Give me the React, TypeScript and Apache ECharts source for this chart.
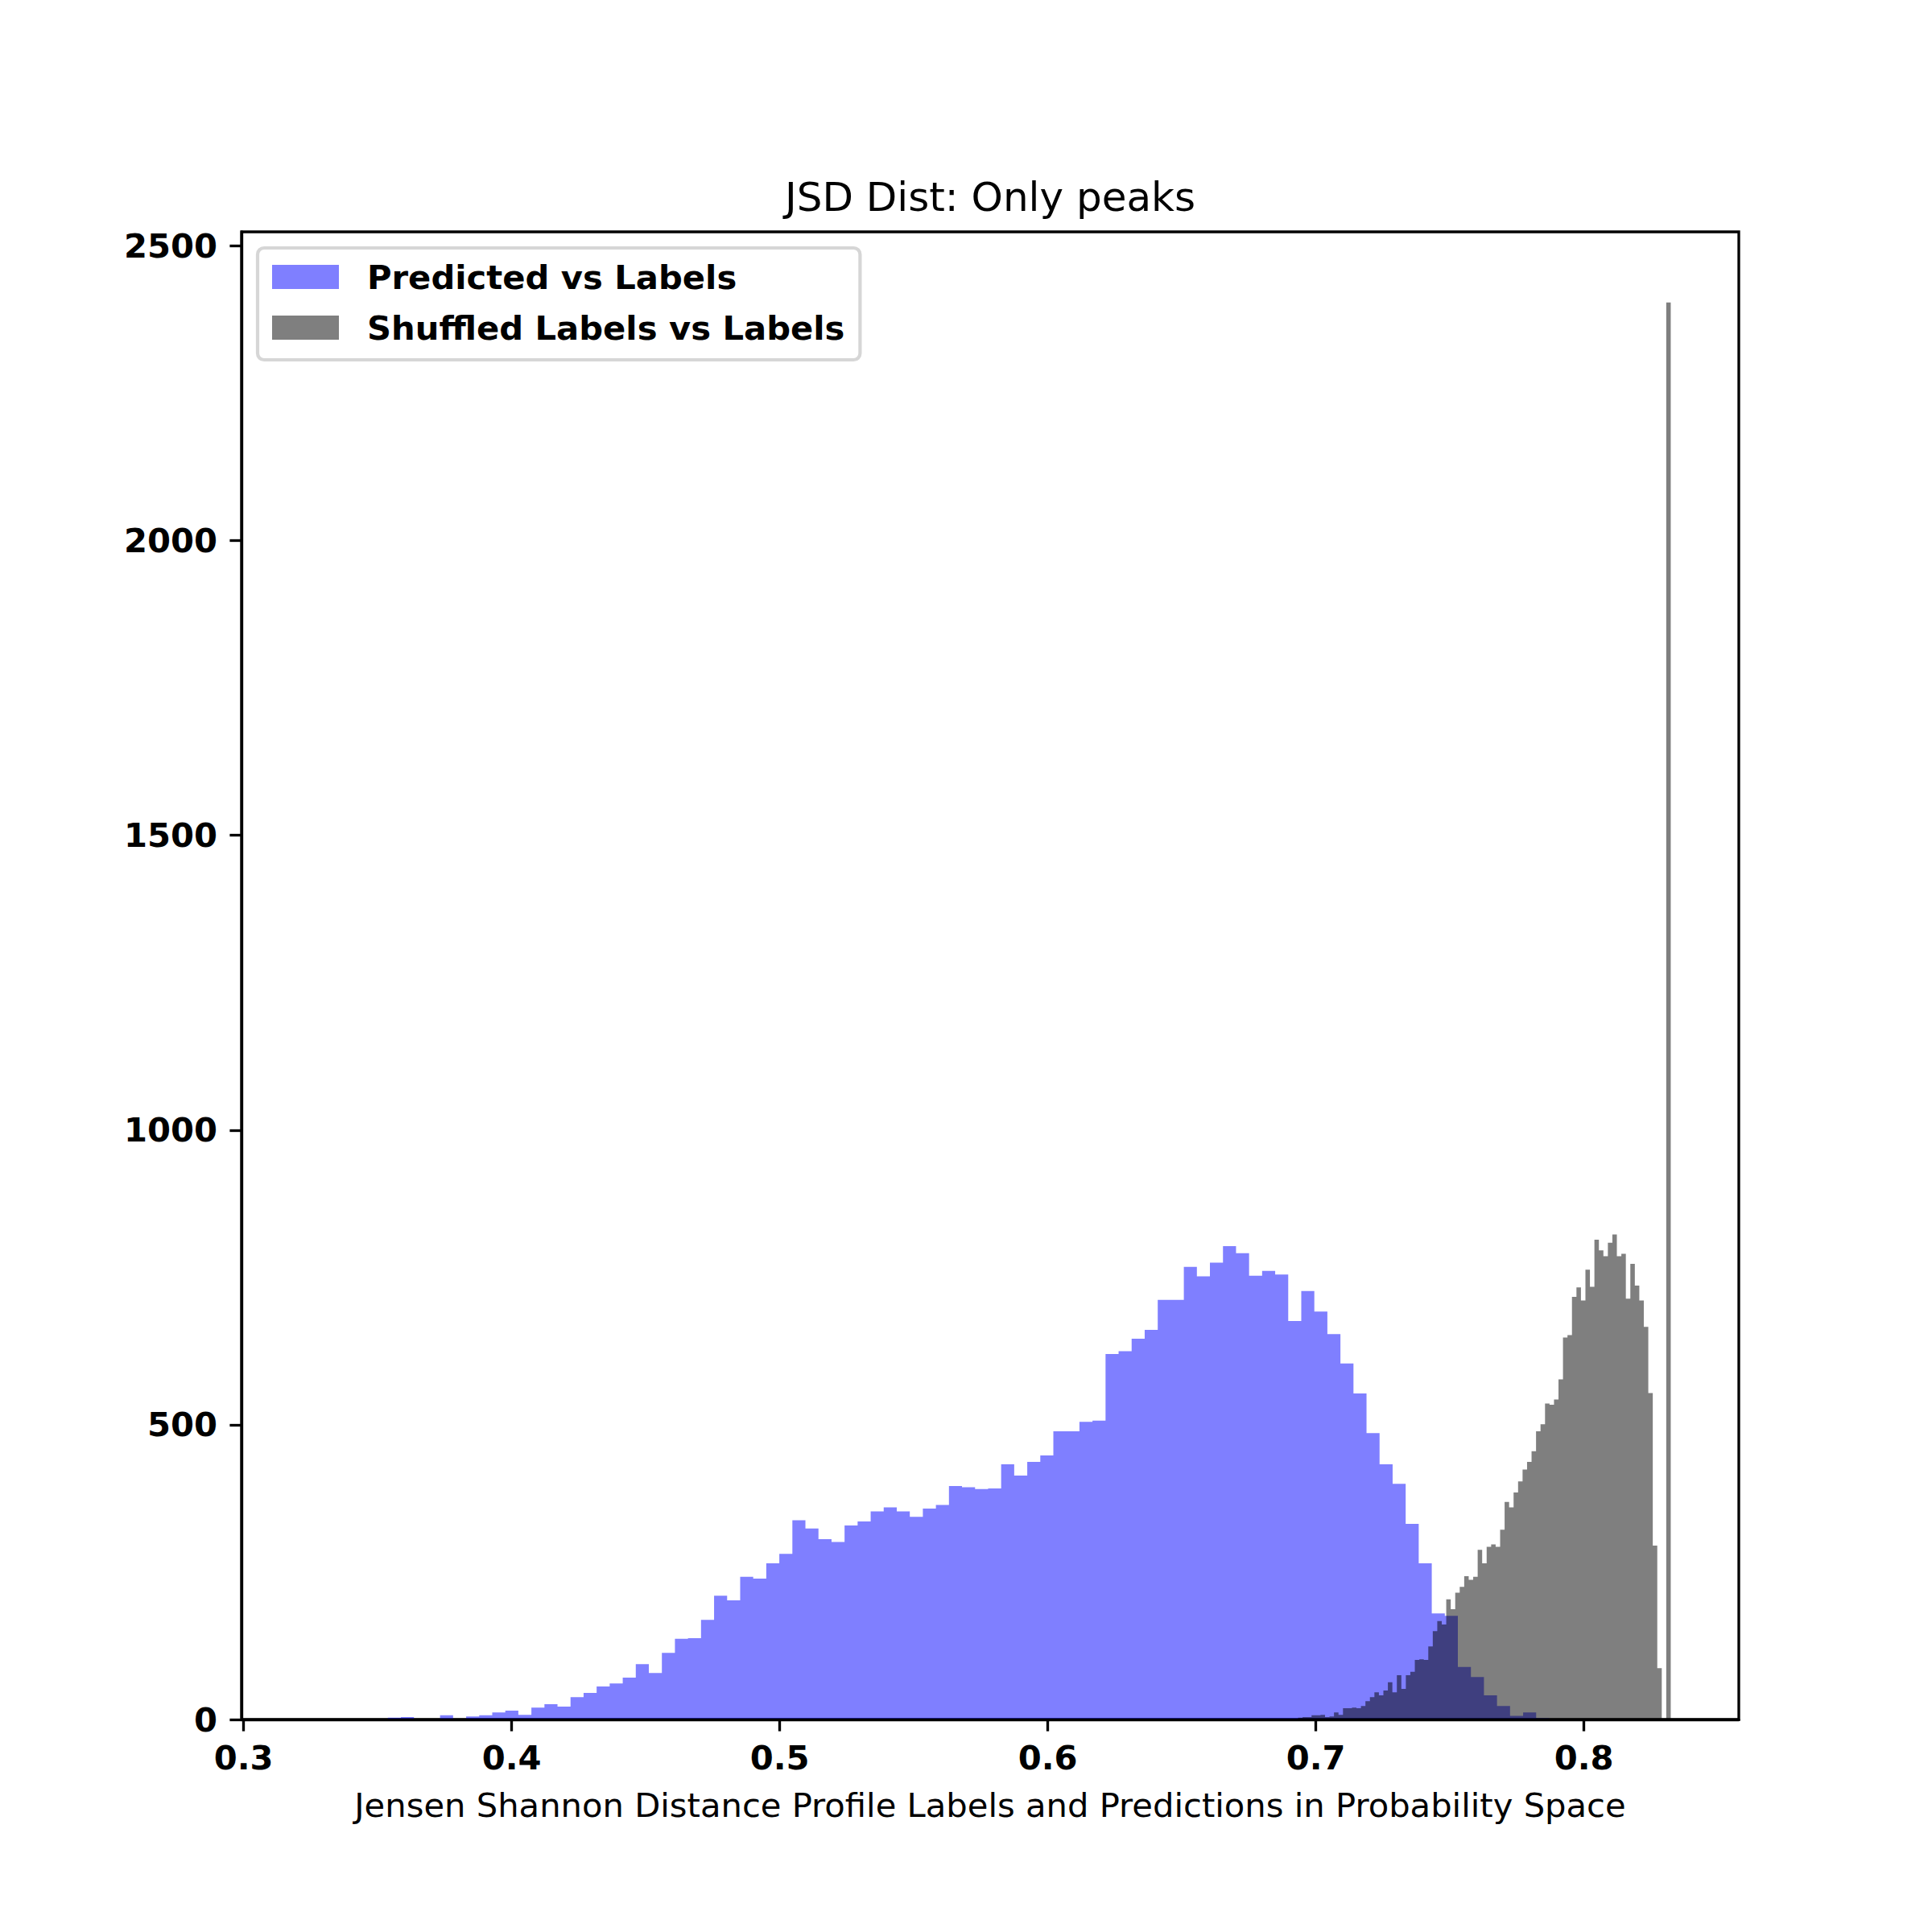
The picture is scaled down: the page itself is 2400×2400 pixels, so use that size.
import React, { useEffect, useRef } from "react";
import * as echarts from "echarts";

// ---- texts ----
const chartTitle = "JSD Dist: Only peaks";
const xAxisLabel =
  "Jensen Shannon Distance Profile Labels and Predictions in Probability Space";
const seriesNames = ["Predicted vs Labels", "Shuffled Labels vs Labels"];

// ---- histogram 1: Predicted vs Labels (100 bins) ----
const predBinStart = 0.3246;
const predBinWidth = 0.004868;
const predCounts = [
  1, 0, 0, 0, 0, 0, 3, 4, 1, 1,
  7, 0, 5, 7, 12, 15, 8, 20, 26, 22,
  38, 45, 56, 61, 71, 94, 79, 113, 137, 138,
  169, 210, 202, 242, 239, 265, 281, 338, 324, 306,
  301, 329, 336, 353, 360, 353, 344, 358, 364, 396,
  394, 391, 392, 433, 414, 437, 448, 489, 489, 505,
  507, 620, 625, 646, 661, 712, 712, 768, 752, 775,
  803, 791, 753, 761, 755, 676, 727, 692, 654, 604,
  553, 486, 433, 400, 332, 265, 180, 176, 89, 72,
  41, 23, 6, 12, 2, 0, 0, 0, 0, 1,
];

// ---- histogram 2: Shuffled Labels vs Labels (100 bins) ----
const shufBinStart = 0.6649;
const shufBinWidth = 0.001675;
const shufCounts = [
  1, 0, 0, 0, 0, 0, 1, 0, 0, 0,
  1, 0, 0, 1, 0, 1, 1, 3, 4, 4,
  7, 7, 8, 4, 5, 12, 8, 19, 19, 20,
  19, 23, 31, 38, 46, 41, 49, 63, 46, 75,
  52, 75, 81, 101, 102, 101, 124, 150, 167, 161,
  204, 187, 215, 225, 243, 237, 242, 288, 265, 293,
  297, 293, 322, 369, 360, 385, 404, 424, 437, 455,
  489, 501, 536, 534, 543, 577, 648, 652, 717, 733,
  711, 763, 734, 814, 796, 786, 809, 823, 786, 790,
  714, 773, 736, 711, 666, 554, 295, 87, 0, 2404,
];

// ---- axes ----
const xTicks = [0.3, 0.4, 0.5, 0.6, 0.7, 0.8];
const yTicks = [0, 500, 1000, 1500, 2000, 2500];
const xMin = 0.29921;
const xMax = 0.85779;
const yMin = 0;
const yMax = 2524;

const FONT = '"DejaVu Sans", "Liberation Sans", sans-serif';

function stepPoints(start: number, width: number, counts: number[]) {
  const pts = counts.map((c, i) => [start + i * width, c]);
  pts.push([start + counts.length * width, counts[counts.length - 1]]);
  return pts;
}

export default function App() {
  const ref = useRef<HTMLDivElement>(null);

  useEffect(() => {
    if (!ref.current) return;
    const chart = echarts.init(ref.current, null, { renderer: "svg" });

    const tickLine = { color: "#000", width: 3.33 };
    const labelStyle = {
      fontFamily: FONT,
      fontWeight: "bold" as const,
      fontSize: 41.7,
      color: "#000",
    };

    const histSeries = (name: string, color: string, pts: number[][]) => ({
      name,
      type: "line",
      step: "end",
      data: pts,
      showSymbol: false,
      symbol: "none",
      color,
      lineStyle: { width: 0, opacity: 0 },
      areaStyle: { color, opacity: 1 },
      emphasis: { disabled: true },
      silent: true,
      clip: true,
    });

    chart.setOption({
      animation: false,
      backgroundColor: "#ffffff",
      grid: {
        left: 300,
        top: 288,
        width: 1860,
        height: 1848,
        show: true,
        borderColor: "#000",
        borderWidth: 3.33,
        backgroundColor: "transparent",
      },
      graphic: [
        {
          type: "text",
          x: 1230,
          y: 245,
          style: {
            text: chartTitle,
            fill: "#000",
            fontFamily: FONT,
            fontSize: 50,
            align: "center",
            verticalAlign: "middle",
          },
        },
      ],
      legend: {
        orient: "vertical",
        left: 320,
        top: 308,
        padding: [15, 19, 19, 18],
        itemWidth: 83,
        itemHeight: 30,
        itemGap: 21,
        icon: "rect",
        backgroundColor: "rgba(255,255,255,0.8)",
        borderColor: "rgba(204,204,204,0.8)",
        borderWidth: 4.2,
        borderRadius: 8,
        itemStyle: { borderWidth: 0 },
        selectedMode: false,
        textStyle: {
          fontFamily: FONT,
          fontWeight: "bold",
          fontSize: 41.7,
          color: "#000",
          lineHeight: 30,
          padding: [0, 0, 0, 30],
        },
        data: [
          {
            name: seriesNames[0],
            itemStyle: { color: "rgba(0,0,255,0.5)", borderWidth: 0 },
          },
          {
            name: seriesNames[1],
            itemStyle: { color: "rgba(0,0,0,0.5)", borderWidth: 0 },
          },
        ],
      },
      xAxis: {
        type: "value",
        min: xMin,
        max: xMax,
        z: 10,
        name: xAxisLabel,
        nameLocation: "middle",
        nameGap: 106,
        nameTextStyle: {
          fontFamily: FONT,
          fontSize: 41.7,
          color: "#000",
          verticalAlign: "middle",
        },
        axisLine: { show: true, onZero: false, lineStyle: tickLine },
        axisTick: {
          show: true,
          inside: false,
          length: 14.6,
          lineStyle: tickLine,
          customValues: xTicks,
        },
        axisLabel: {
          ...labelStyle,
          margin: 47,
          verticalAlign: "middle",
          customValues: xTicks,
          formatter: (v: number) => String(v),
        },
        splitLine: { show: false },
      },
      yAxis: {
        type: "value",
        min: yMin,
        max: yMax,
        z: 10,
        axisLine: { show: true, onZero: false, lineStyle: tickLine },
        axisTick: {
          show: true,
          inside: false,
          length: 14.6,
          lineStyle: tickLine,
          customValues: yTicks,
        },
        axisLabel: {
          ...labelStyle,
          margin: 30,
          customValues: yTicks,
          formatter: (v: number) => String(v),
        },
        splitLine: { show: false },
      },
      series: [
        histSeries(
          seriesNames[0],
          "rgba(0,0,255,0.5)",
          stepPoints(predBinStart, predBinWidth, predCounts)
        ),
        histSeries(
          seriesNames[1],
          "rgba(0,0,0,0.5)",
          stepPoints(shufBinStart, shufBinWidth, shufCounts)
        ),
      ],
    });

    return () => chart.dispose();
  }, []);

  return (
    <div
      ref={ref}
      style={{
        position: "absolute",
        left: 0,
        top: 0,
        width: 2400,
        height: 2400,
        background: "#fff",
      }}
    />
  );
}
